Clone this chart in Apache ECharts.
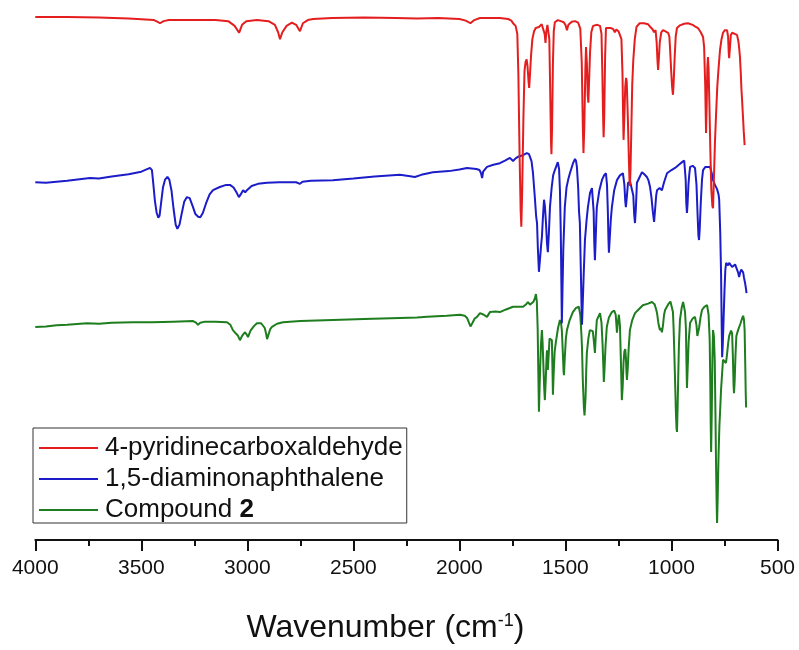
<!DOCTYPE html>
<html>
<head>
<meta charset="utf-8">
<script src="https://cdn.jsdelivr.net/npm/echarts@6/dist/echarts.min.js"></script>
<style>
html,body{margin:0;padding:0;background:#fff;}
#chart{width:799px;height:650px;}
</style>
</head>
<body>
<div id="chart"></div>
<script>
// Series names (legend order)
const seriesNames = ['4-pyridinecarboxaldehyde', '1,5-diaminonaphthalene', 'Compound 2'];
const seriesColors = ['#e41e1e', '#1c1cc8', '#1e7d1e'];

// X axis ticks (wavenumber, cm-1)
const xMin = 500, xMax = 4000, xStep = 500;

// Spectra: [wavenumber (cm-1), offset transmittance (arb. units, 0-100)]
const pyridineSpectrum = [
[4000,98.7],[3850,98.7],[3700,98.6],[3560,98.4],[3480,98.2],[3440,98.1],[3425,97.8],[3412,97.5],[3395,97.9],[3370,98.1],
[3250,98.1],[3150,98.1],[3090,97.9],[3060,97.0],[3039,95.7],[3025,97.2],[3005,97.9],[2955,98.1],[2900,97.9],[2870,97.2],
[2855,95.8],[2846,94.5],[2835,95.8],[2815,97.0],[2790,97.6],[2770,97.2],[2752,96.0],[2738,97.5],[2715,98.1],[2690,98.3],
[2600,98.5],[2450,98.6],[2300,98.5],[2200,98.4],[2100,98.5],[2000,98.3],[1970,98.0],[1948,97.5],[1930,98.1],[1903,98.5],
[1850,98.5],[1809,98.5],[1770,98.3],[1755,98.0],[1747,97.5],[1735,97.0],[1727,95.5],[1722,88.0],[1716,72.0],[1711,62.0],
[1708,59.1],[1704,66.0],[1698,80.0],[1693,88.5],[1688,90.2],[1683,90.7],[1679,89.5],[1674,86.5],[1671,85.3],[1667,88.0],
[1662,91.5],[1656,94.5],[1648,96.0],[1640,96.6],[1625,96.8],[1612,97.3],[1603,97.0],[1598,95.5],[1594,93.8],[1590,96.0],
[1585,97.2],[1580,97.0],[1576,94.5],[1572,85.0],[1568,75.0],[1566,72.8],[1563,78.0],[1559,90.0],[1555,96.0],[1550,97.7],
[1536,98.1],[1522,97.9],[1508,97.7],[1500,97.2],[1493,96.2],[1486,97.2],[1470,97.8],[1455,97.9],[1440,97.6],[1430,96.5],
[1423,90.0],[1418,78.0],[1415,73.0],[1411,78.0],[1406,89.0],[1403,93.0],[1399,90.0],[1395,84.0],[1392,82.5],[1389,86.0],
[1384,92.0],[1378,95.8],[1370,97.0],[1350,97.2],[1337,97.0],[1330,95.5],[1326,88.0],[1322,79.0],[1320,76.0],[1317,80.0],
[1313,91.0],[1309,96.6],[1300,96.8],[1285,96.6],[1275,96.4],[1267,95.8],[1260,96.3],[1250,96.0],[1243,95.8],[1236,94.5],
[1231,88.0],[1228,80.0],[1226,75.5],[1222,80.0],[1218,85.5],[1214,87.2],[1211,86.5],[1206,80.0],[1201,72.0],[1198,68.0],
[1196,66.8],[1193,70.0],[1189,78.0],[1185,86.0],[1180,90.6],[1173,94.5],[1165,96.8],[1150,97.5],[1130,97.5],[1110,97.3],
[1100,96.8],[1090,96.4],[1082,95.8],[1075,96.2],[1070,94.0],[1066,90.5],[1063,88.7],[1060,90.5],[1055,94.0],[1048,95.8],
[1040,96.2],[1030,96.0],[1016,95.7],[1010,95.0],[1007,93.0],[1002,89.0],[997,85.5],[993,84.0],[990,86.0],[985,91.0],
[980,95.0],[974,96.6],[960,97.1],[940,97.4],[922,97.5],[900,97.2],[885,96.8],[875,96.6],[862,95.8],[851,94.9],
[846,93.0],[841,86.0],[837,76.8],[834,82.0],[831,89.0],[828,91.1],[825,89.0],[821,82.0],[817,74.0],[812,66.0],
[807,63.0],[804,62.6],[800,68.0],[795,75.0],[790,80.0],[784,85.5],[778,89.0],[771,92.5],[764,94.5],[757,95.7],
[748,96.2],[738,96.2],[733,95.0],[730,92.0],[728,90.9],[725,92.5],[720,95.3],[714,95.7],[705,95.5],[691,95.3],
[684,94.0],[680,92.5],[677,91.1],[673,88.0],[670,85.0],[667,83.0],[663,80.0],[659,77.0],[655,74.5],[653,74.5]
];

const diamineSpectrum = [
[4000,67.5],[3950,67.4],[3900,67.6],[3850,67.8],[3742,68.3],[3700,68.2],[3640,68.6],[3560,69.0],[3500,69.5],[3459,70.2],
[3450,69.8],[3443,67.0],[3436,64.0],[3428,61.8],[3420,60.8],[3414,61.2],[3407,63.5],[3398,66.5],[3388,68.0],[3377,68.5],
[3368,68.0],[3358,66.0],[3348,62.5],[3338,59.5],[3330,58.7],[3320,59.5],[3310,61.5],[3298,63.8],[3285,64.7],[3272,64.5],
[3258,63.0],[3245,61.5],[3232,61.0],[3222,60.9],[3210,61.7],[3195,63.5],[3178,65.2],[3162,66.0],[3130,66.6],[3100,67.0],
[3082,67.0],[3065,66.5],[3050,65.5],[3040,64.7],[3030,65.3],[3020,66.0],[3010,65.6],[3002,66.0],[2980,66.8],[2950,67.2],
[2907,67.4],[2850,67.5],[2800,67.5],[2770,67.5],[2752,67.2],[2740,67.6],[2700,67.8],[2597,67.9],[2500,68.2],[2400,68.6],
[2281,68.9],[2240,68.7],[2210,68.5],[2180,68.9],[2125,69.4],[2050,69.6],[2000,69.9],[1964,70.2],[1920,70.0],[1905,69.8],
[1898,69.2],[1893,68.3],[1888,69.5],[1870,70.4],[1840,70.8],[1809,71.1],[1785,71.6],[1762,72.1],[1747,71.5],[1735,72.0],
[1724,72.3],[1700,72.6],[1682,73.0],[1672,72.8],[1667,72.6],[1660,71.5],[1653,69.2],[1645,65.0],[1638,61.0],[1634,59.8],
[1630,55.0],[1625,50.6],[1620,53.0],[1615,55.5],[1611,57.2],[1606,61.0],[1601,64.2],[1597,63.0],[1592,60.0],[1587,56.0],
[1583,54.3],[1578,58.0],[1573,62.8],[1565,66.5],[1558,68.8],[1550,69.8],[1536,71.3],[1530,70.0],[1526,66.0],[1522,58.0],
[1519,48.0],[1517,40.9],[1514,47.0],[1510,55.0],[1503,62.8],[1495,66.5],[1487,68.0],[1479,69.2],[1465,71.0],[1455,71.9],
[1450,71.5],[1446,70.4],[1440,66.5],[1436,62.0],[1432,59.8],[1428,52.0],[1424,44.0],[1422,40.6],[1419,44.0],[1414,50.0],
[1408,56.6],[1400,60.5],[1394,62.8],[1384,65.5],[1375,66.4],[1371,66.6],[1367,62.0],[1364,56.0],[1361,52.8],[1358,56.0],
[1354,61.0],[1352,62.8],[1340,66.0],[1328,67.9],[1318,68.8],[1309,69.2],[1304,67.0],[1300,62.0],[1297,56.5],[1295,54.2],
[1291,57.0],[1286,60.5],[1281,62.8],[1270,66.0],[1257,67.9],[1243,68.8],[1229,69.2],[1222,67.0],[1218,64.0],[1215,62.8],
[1211,64.5],[1205,67.4],[1195,67.6],[1186,67.4],[1180,65.0],[1176,61.5],[1172,59.8],[1168,62.5],[1163,67.4],[1150,68.5],
[1139,69.4],[1128,69.0],[1116,68.5],[1108,67.8],[1101,66.6],[1094,64.5],[1088,62.0],[1082,60.0],[1077,62.5],[1072,65.0],
[1068,66.0],[1056,66.4],[1045,66.0],[1035,67.5],[1021,69.2],[1000,69.8],[983,70.2],[965,70.8],[950,71.3],[940,71.6],
[936,71.7],[933,68.0],[930,63.5],[927,61.7],[924,63.5],[920,67.0],[916,69.0],[912,70.4],[900,70.6],[889,70.2],
[882,67.0],[877,61.5],[873,57.5],[870,56.6],[867,58.5],[862,63.5],[856,68.0],[851,69.8],[840,70.4],[832,70.4],
[818,70.4],[810,69.2],[804,67.9],[795,67.0],[785,66.2],[778,65.2],[775,64.2],[770,58.0],[766,50.0],[763,40.0],
[761,34.5],[758,37.0],[754,42.0],[750,47.0],[746,51.0],[742,52.3],[738,52.3],[733,51.8],[728,52.3],[724,52.5],
[719,52.3],[714,51.5],[710,51.3],[705,51.5],[700,52.0],[696,51.8],[691,51.9],[686,50.5],[681,49.6],[676,50.5],
[671,51.0],[667,51.3],[662,50.5],[658,49.5],[653,48.5],[649,47.5],[646,46.6]
];

const compoundSpectrum = [
[4000,40.2],[3950,40.3],[3900,40.5],[3850,40.6],[3756,40.9],[3700,40.8],[3640,41.0],[3539,41.1],[3450,41.1],[3350,41.2],
[3256,41.3],[3242,41.0],[3233,40.6],[3222,41.0],[3200,41.2],[3150,41.2],[3096,41.1],[3080,40.6],[3068,39.6],[3055,39.0],
[3045,38.6],[3035,37.7],[3025,38.5],[3011,39.2],[3004,38.8],[2997,38.3],[2985,39.5],[2970,40.3],[2955,40.9],[2935,40.9],
[2926,40.6],[2918,40.0],[2912,39.0],[2907,37.9],[2900,38.8],[2892,39.8],[2884,40.2],[2860,40.8],[2832,41.1],[2750,41.3],
[2597,41.5],[2450,41.7],[2281,41.9],[2200,42.0],[2153,42.1],[2060,42.3],[1997,42.5],[1975,42.3],[1964,41.9],[1955,41.0],
[1948,40.3],[1945,40.2],[1938,41.0],[1928,41.8],[1917,42.1],[1903,42.8],[1885,42.5],[1870,42.1],[1856,43.0],[1830,43.1],
[1809,43.0],[1780,43.5],[1747,44.0],[1720,44.0],[1700,44.0],[1685,44.5],[1677,44.9],[1667,44.4],[1658,44.3],[1650,45.0],
[1643,45.8],[1639,46.4],[1635,45.0],[1631,40.0],[1628,32.0],[1625,24.2],[1621,30.0],[1616,36.5],[1611,39.6],[1608,37.5],
[1604,33.0],[1600,28.5],[1597,26.4],[1593,30.0],[1589,34.5],[1587,35.8],[1584,33.5],[1583,32.1],[1579,35.0],[1575,38.0],
[1571,38.3],[1567,38.0],[1564,37.7],[1561,32.0],[1559,27.4],[1556,31.0],[1551,35.5],[1545,37.4],[1535,40.0],[1526,41.5],
[1521,41.0],[1517,39.6],[1513,36.0],[1509,32.0],[1507,31.1],[1503,34.5],[1498,38.0],[1493,39.6],[1480,41.5],[1465,43.0],
[1450,43.8],[1437,44.0],[1430,42.5],[1425,39.0],[1422,36.4],[1418,30.0],[1413,25.0],[1410,23.5],[1408,23.2],[1405,27.0],
[1402,32.0],[1399,35.3],[1392,38.0],[1385,39.6],[1376,39.8],[1371,39.4],[1366,37.5],[1361,35.3],[1357,38.5],[1352,41.5],
[1337,42.8],[1330,41.0],[1325,37.0],[1321,32.5],[1319,29.8],[1316,32.0],[1311,36.5],[1305,40.2],[1295,42.0],[1281,43.0],
[1270,43.3],[1263,42.5],[1257,39.1],[1253,41.0],[1248,42.5],[1243,40.5],[1238,33.0],[1234,26.4],[1230,29.0],[1226,33.5],
[1222,35.6],[1218,36.0],[1215,34.5],[1212,31.5],[1210,30.2],[1206,32.5],[1202,36.0],[1196,39.6],[1185,41.5],[1172,42.8],
[1155,43.5],[1135,44.3],[1110,44.6],[1092,44.9],[1080,44.5],[1072,43.5],[1068,42.8],[1062,41.0],[1057,40.0],[1054,39.6],
[1050,40.0],[1045,39.2],[1040,40.5],[1035,42.5],[1030,43.4],[1015,44.5],[1005,45.0],[997,45.3],[993,43.0],[990,40.0],
[987,36.0],[983,30.0],[979,24.0],[976,21.0],[974,20.4],[971,25.0],[968,31.0],[965,36.5],[960,41.5],[952,43.8],
[945,44.9],[940,44.9],[936,43.0],[932,40.0],[929,33.0],[927,28.7],[924,32.0],[919,37.5],[912,41.0],[900,41.8],
[889,42.1],[882,40.5],[878,38.5],[875,38.3],[870,40.0],[863,42.0],[856,43.4],[845,44.0],[832,44.3],[825,42.5],
[820,38.0],[817,30.0],[815,22.0],[813,16.6],[810,24.0],[807,34.0],[804,39.6],[800,38.5],[796,34.0],[793,25.0],
[790,15.0],[787,7.0],[785,3.2],[782,8.0],[778,16.0],[774,21.5],[771,24.0],[766,28.5],[761,31.5],[757,34.0],
[750,33.8],[743,33.4],[738,35.0],[733,37.0],[728,38.5],[724,38.7],[719,39.5],[714,39.0],[710,34.0],[707,29.0],
[705,27.7],[702,30.0],[698,35.0],[694,38.5],[686,39.6],[675,40.8],[667,41.8],[662,42.3],[658,41.5],[655,39.6],
[652,33.0],[650,28.0],[648,25.0]
];

const spectra = [pyridineSpectrum, diamineSpectrum, compoundSpectrum];

const FONT = "'Liberation Sans', Arial, sans-serif";

const chart = echarts.init(document.getElementById('chart'), null, {renderer: 'canvas'});

// draw order: green under blue under red
const drawOrder = [2, 1, 0];
const series = drawOrder.map(i => ({
  name: seriesNames[i],
  type: 'line',
  data: spectra[i],
  showSymbol: false,
  symbol: 'none',
  smooth: false,
  lineStyle: {color: seriesColors[i], width: 2},
  itemStyle: {color: seriesColors[i]},
  emphasis: {disabled: true},
  animation: false
}));

chart.setOption({
  animation: false,
  backgroundColor: '#ffffff',
  grid: {left: 35.3, right: 21.5, top: 10, bottom: 110, outerBoundsMode: 'none', containLabel: false},
  legend: {
    data: seriesNames,
    orient: 'vertical',
    left: 33,
    top: 428,
    padding: [7, 4, 0, 6],
    itemGap: 5,
    icon: 'rect',
    itemWidth: 59,
    itemHeight: 2,
    borderColor: '#333333',
    borderWidth: 1,
    borderRadius: 0,
    backgroundColor: 'rgba(255,255,255,0)',
    selectedMode: false,
    formatter: function (name) {
      return name === 'Compound 2' ? '{t|Compound }{b|2}' : '{t|' + name + '}';
    },
    textStyle: {
      fontFamily: FONT,
      fontSize: 26,
      lineHeight: 26,
      color: '#111111',
      padding: [0, 0, 0, 2],
      rich: {
        t: {fontFamily: FONT, fontSize: 26, color: '#111111', lineHeight: 26},
        b: {fontFamily: FONT, fontSize: 26, fontWeight: 'bold', color: '#111111', lineHeight: 26}
      }
    }
  },
  xAxis: {
    type: 'value',
    min: xMin,
    max: xMax,
    interval: xStep,
    inverse: true,
    position: 'bottom',
    splitLine: {show: false},
    axisLine: {show: true, onZero: false, lineStyle: {color: '#111111', width: 2}},
    axisTick: {show: true, length: 11, lineStyle: {color: '#111111', width: 2}},
    minorTick: {show: true, splitNumber: 2, length: 6, lineStyle: {color: '#111111', width: 2}},
    minorSplitLine: {show: false},
    axisLabel: {
      fontFamily: FONT, fontSize: 21, color: '#111111', margin: 18,
      formatter: function (v) { return String(v); }
    },
    name: 'Wavenumber (cm{sup|-1})',
    nameLocation: 'middle',
    nameGap: 72,
    nameTextStyle: {
      fontFamily: FONT,
      fontSize: 32,
      lineHeight: 32,
      color: '#111111',
      padding: [0, 42, 0, 0],
      rich: {
        sup: {fontFamily: FONT, fontSize: 18, lineHeight: 18, verticalAlign: 'top', color: '#111111'}
      }
    }
  },
  yAxis: {
    type: 'value',
    min: 0,
    max: 100,
    show: false,
    splitLine: {show: false}
  },
  series: series
});
</script>
</body>
</html>
